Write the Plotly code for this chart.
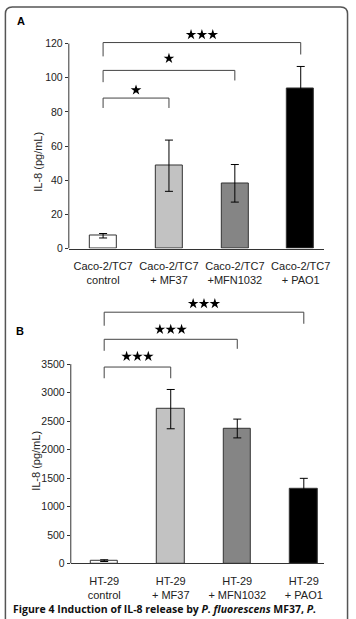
import plotly.graph_objects as go

W, H = 356, 619

# ---------------- data ----------------
cats_a = ["Caco-2/TC7<br>control", "Caco-2/TC7<br>+ MF37", "Caco-2/TC7<br>+MFN1032", "Caco-2/TC7<br>+ PAO1"]
vals_a = [7.5, 48.5, 38.2, 94.0]
err_a = [1.3, 15.0, 11.0, 12.6]

cats_b = ["HT-29<br>control", "HT-29<br>+ MF37", "HT-29<br>+ MFN1032", "HT-29<br>+ PAO1"]
vals_b = [50, 2710, 2370, 1305]
err_b = [15, 345, 165, 190]

bar_colors = ["#ffffff", "#c2c2c2", "#858585", "#000000"]

# significance brackets: (from, to, bar height, left drop, right drop, star height, n stars)
brackets_a = [
    (0, 1, 88.1, 82.3, 82.3, 92.8, 1),
    (0, 2, 104.3, 97.4, 98.4, 111.3, 1),
    (0, 3, 120.6, 112.5, 113.6, 125.2, 3),
]
brackets_b = [
    (0, 1, 3449, 3252, 3252, 3635, 3),
    (0, 2, 3936, 3734, 3769, 4110, 3),
    (0, 3, 4412, 4174, 4209, 4562, 3),
]

ticks_a = [0, 20, 40, 60, 80, 100, 120]
ticks_b = [0, 500, 1000, 1500, 2000, 2500, 3000, 3500]

caption = "Figure 4 Induction of IL-8 release by <i>P. fluorescens</i> MF37, <i>P.</i>"

# ---------------- layout helpers ----------------
def fx(p):
    return p / W

def fy(p):
    return 1 - p / H

FONT = "Liberation Sans, Arial, sans-serif"
TXT = "#222222"

fig = go.Figure()

def add_panel(cats, vals, errs, brackets, xa, ya, star_dx):
    xs = list(range(len(cats)))
    fig.add_trace(go.Bar(
        x=xs, y=vals, width=0.41,
        marker=dict(color=bar_colors, line=dict(color="#333333", width=1)),
        error_y=dict(type="data", array=errs, visible=True, color="#000000", thickness=1, width=4),
        xaxis=xa, yaxis=ya, showlegend=False, hoverinfo="skip",
    ))
    for (i0, i1, h, d0, d1, sh, n) in brackets:
        fig.add_trace(go.Scatter(
            x=[i0, i0, i1, i1], y=[d0, h, h, d1], mode="lines",
            line=dict(color="#444444", width=1),
            xaxis=xa, yaxis=ya, showlegend=False, hoverinfo="skip",
        ))
        mid = (i0 + i1) / 2
        sx = [mid + (k - (n - 1) / 2) * star_dx for k in range(n)]
        fig.add_trace(go.Scatter(
            x=sx, y=[sh] * n, mode="markers",
            marker=dict(symbol="star", size=8, color="#000000", line=dict(width=0)),
            cliponaxis=False,
            xaxis=xa, yaxis=ya, showlegend=False, hoverinfo="skip",
        ))

add_panel(cats_a, vals_a, err_a, brackets_a, "x", "y", 0.165)
add_panel(cats_b, vals_b, err_b, brackets_b, "x2", "y2", 0.163)

# axis geometry (pixels)
a_left, a_right, a_zero, a_ppu, a_top_val = 70, 330, 251, 1.725, 130
b_left, b_right, b_zero, b_ppu, b_top_val = 72, 330, 569, 201.3 / 3500, 4700

common_x = dict(
    tickmode="array", tickvals=[0, 1, 2, 3], ticks="", showline=True,
    linecolor="#333333", linewidth=1, showgrid=False, zeroline=False,
    tickfont=dict(family=FONT, size=11, color=TXT), fixedrange=True,
)
common_y = dict(
    tickmode="array", ticks="outside", ticklen=3, tickcolor="#333333", tickwidth=1,
    showline=False, showgrid=False, zeroline=False,
    tickfont=dict(family=FONT, size=10.5, color=TXT), fixedrange=True,
)

fig.update_layout(
    width=W, height=H,
    margin=dict(l=0, r=0, t=0, b=0),
    paper_bgcolor="#ffffff", plot_bgcolor="rgba(0,0,0,0)",
    font=dict(family=FONT, size=11, color=TXT),
    bargap=0,
    xaxis=dict(common_x, domain=[fx(a_left), fx(a_right)], range=[-0.52, 3.36],
               ticktext=cats_a, anchor="y", ticklabelstandoff=7),
    yaxis=dict(common_y, domain=[fy(a_zero), fy(a_zero - a_top_val * a_ppu)],
               range=[0, a_top_val], tickvals=ticks_a, ticktext=[str(t) for t in ticks_a],
               anchor="x"),
    xaxis2=dict(common_x, domain=[fx(b_left), fx(b_right)], range=[-0.502, 3.31],
                ticktext=cats_b, anchor="y2", ticklabelstandoff=7),
    yaxis2=dict(common_y, domain=[fy(b_zero), fy(b_zero - b_top_val * b_ppu)],
                range=[0, b_top_val], tickvals=ticks_b, ticktext=[str(t) for t in ticks_b],
                anchor="x2"),
)

# y-axis lines only up to the top tick
fig.add_shape(type="line", xref="x domain", yref="y", x0=0, x1=0, y0=0, y1=ticks_a[-1],
              line=dict(color="#333333", width=1))
fig.add_shape(type="line", xref="x2 domain", yref="y2", x0=0, x1=0, y0=0, y1=ticks_b[-1],
              line=dict(color="#333333", width=1))

# frame (rounded rectangle, open at bottom)
x0, x1, yt, r = fx(5.5), fx(353.5), fy(7), 7
rx, ry = r / W, r / H
path = (f"M {x0},-0.05 L {x0},{yt - ry} Q {x0},{yt} {x0 + rx},{yt} "
        f"L {x1 - rx},{yt} Q {x1},{yt} {x1},{yt - ry} L {x1},-0.05")
fig.add_shape(type="path", xref="paper", yref="paper", path=path,
              line=dict(color="#555555", width=1.5))

# y axis titles and panel labels
fig.add_annotation(text="IL-8 (pg/mL)", xref="paper", yref="paper", x=fx(39), y=fy(163),
                   textangle=-90, showarrow=False, xanchor="center", yanchor="middle",
                   font=dict(family=FONT, size=11, color=TXT))
fig.add_annotation(text="IL-8 (pg/mL)", xref="paper", yref="paper", x=fx(37), y=fy(465),
                   textangle=-90, showarrow=False, xanchor="center", yanchor="middle",
                   font=dict(family=FONT, size=11, color=TXT))
fig.add_annotation(text="<b>A</b>", xref="paper", yref="paper", x=fx(21), y=fy(21),
                   showarrow=False, xanchor="center", yanchor="middle",
                   font=dict(family=FONT, size=11, color="#000000"))
fig.add_annotation(text="<b>B</b>", xref="paper", yref="paper", x=fx(20), y=fy(334),
                   showarrow=False, xanchor="center", yanchor="middle",
                   font=dict(family=FONT, size=11, color="#000000"))

# caption (at the bottom edge, partly cut like the reference)
fig.add_annotation(text="<b>" + caption + "</b>", xref="paper", yref="paper",
                   x=fx(12), y=0, yshift=-4, showarrow=False, xanchor="left", yanchor="bottom",
                   borderpad=0,
                   font=dict(family="Open Sans, sans-serif", size=10.5, color="#111111"))

fig.write_html("out.html")
